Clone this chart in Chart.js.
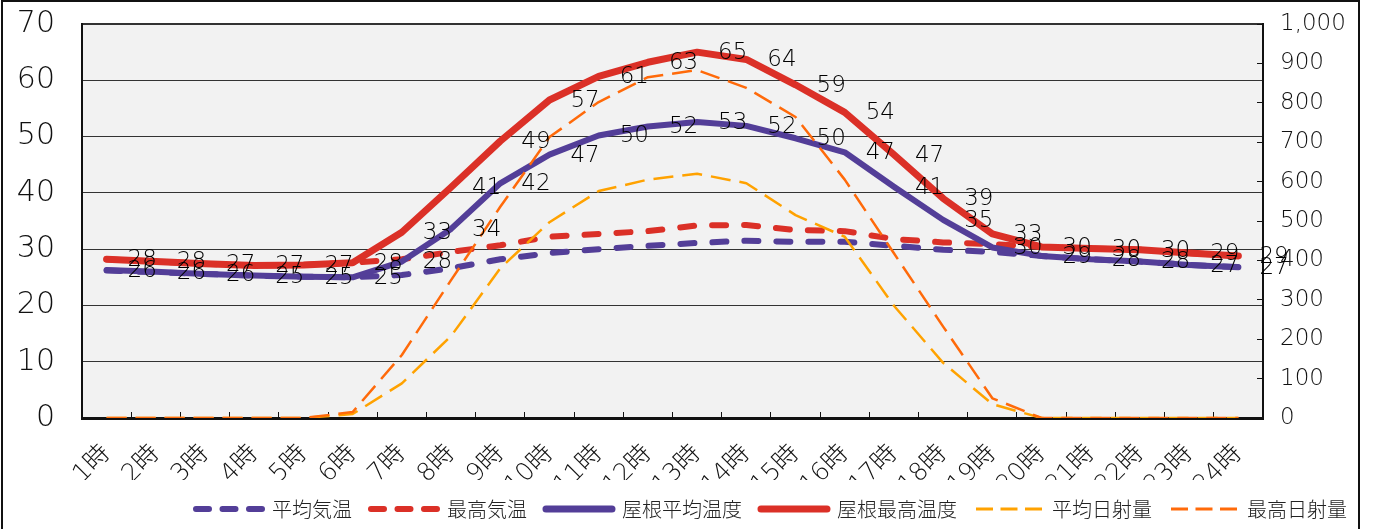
<!DOCTYPE html>
<html>
<head>
<meta charset="utf-8">
<script src="https://cdn.jsdelivr.net/npm/chart.js@4.4.1/dist/chart.umd.min.js"></script>
<style>
  html, body { margin: 0; padding: 0; background: #ffffff; }
  canvas { display: block; }
</style>
</head>
<body>
<canvas id="c" width="1376" height="529"></canvas>
<script>
// ---- data ----
const hours = ['1時','2時','3時','4時','5時','6時','7時','8時','9時','10時','11時','12時',
               '13時','14時','15時','16時','17時','18時','19時','20時','21時','22時','23時','24時'];

// 平均気温 (°C, left axis)
const avgAirTemp  = [26.2, 25.9, 25.6, 25.3, 25.1, 25.0, 25.4, 26.6, 28.2, 29.3, 30.0, 30.6,
                     31.1, 31.5, 31.3, 31.3, 30.6, 29.9, 29.5, 28.8, 28.2, 27.8, 27.2, 26.8];
// 最高気温 (°C, left axis)
const maxAirTemp  = [28.2, 27.8, 27.4, 27.1, 27.2, 27.6, 28.2, 29.5, 30.7, 32.2, 32.7, 33.2,
                     34.2, 34.3, 33.4, 33.2, 31.8, 31.2, 30.9, 30.4, 30.1, 29.9, 29.3, 28.8];
// 屋根平均温度 (°C, left axis)
const roofAvgTemp = [26.3, 26.0, 25.6, 25.3, 25.1, 25.0, 27.8, 33.6, 41.7, 46.8, 50.2, 51.8,
                     52.6, 51.9, 49.7, 47.2, 41.1, 35.2, 30.3, 28.8, 28.2, 27.8, 27.2, 26.8];
// 屋根最高温度 (°C, left axis)
const roofMaxTemp = [28.2, 27.8, 27.4, 27.1, 27.2, 27.6, 33.0, 41.0, 49.2, 56.5, 60.7, 63.2,
                     65.0, 63.7, 59.2, 54.3, 46.8, 39.0, 32.7, 30.4, 30.1, 29.9, 29.3, 28.8];
// 平均日射量 (right axis)
const avgSolar    = [0, 0, 0, 0, 0, 10, 88, 208, 380, 497, 576, 605,
                     620, 596, 515, 460, 285, 140, 35, 0, 0, 0, 0, 0];
// 最高日射量 (right axis)
const maxSolar    = [0, 0, 0, 0, 0, 15, 160, 350, 536, 713, 802, 865,
                     883, 838, 764, 605, 418, 232, 50, 0, 0, 0, 0, 0];

const tempAxisRange  = [0, 70];   // left axis min / max
const tempAxisStep   = 10;
const solarAxisRange = [0, 1000]; // right axis min / max
const solarAxisStep  = 100;

// ---- colours ----
const PURPLE = '#533E98';
const RED    = '#DB3027';
const LORANGE = '#FFA200';
const DORANGE = '#FF6A0A';

const NUM_FONT = "'DejaVu Sans', 'Noto Sans CJK JP', sans-serif";
const JP_FONT  = "'Noto Sans CJK JP', 'DejaVu Sans', sans-serif";

// plot background + outer border
const frame = {
  id: 'frame',
  beforeDraw(chart) {
    const {ctx, chartArea: a} = chart;
    ctx.save();
    ctx.fillStyle = '#ffffff';
    ctx.fillRect(0, 0, chart.width, chart.height);
    ctx.fillStyle = '#F2F2F2';
    ctx.fillRect(a.left, a.top, a.right - a.left, a.bottom - a.top);
    ctx.restore();
  },
  afterDraw(chart) {
    const ctx = chart.ctx;
    ctx.save();
    ctx.strokeStyle = '#111';
    ctx.lineWidth = 2;
    ctx.strokeRect(2, 1, 1357, 560);
    ctx.restore();
  }
};

// value labels placed to the right of each point
const valueLabels = {
  id: 'valueLabels',
  afterDatasetsDraw(chart) {
    const ctx = chart.ctx;
    ctx.save();
    ctx.font = '300 23px ' + NUM_FONT;
    ctx.fillStyle = '#000';
    ctx.textAlign = 'left';
    ctx.textBaseline = 'middle';
    chart.data.datasets.forEach((ds, i) => {
      if (!ds.showValues) return;
      const meta = chart.getDatasetMeta(i);
      meta.data.forEach((pt, j) => {
        ctx.fillText(String(Math.round(ds.data[j])), pt.x + 21, pt.y + 1);
      });
    });
    ctx.restore();
  }
};

// move the legend row to where the reference has it
const legendPlace = {
  id: 'legendPlace',
  afterLayout(chart) {
    if (chart.legend) {
      chart.legend.left = 177;
    }
  }
};

const ds = (label, data, color, width, dash, cap, axis, order, extra) => Object.assign({
  label, data,
  borderColor: color, backgroundColor: color,
  borderWidth: width, borderDash: dash, borderCapStyle: cap, borderJoinStyle: 'round',
  pointRadius: 0, pointHoverRadius: 0, tension: 0, fill: false,
  yAxisID: axis, order
}, extra || {});

new Chart(document.getElementById('c'), {
  type: 'line',
  data: {
    labels: hours,
    datasets: [
      ds('平均気温',     avgAirTemp,  PURPLE, 6, [14, 18], 'round', 'yT', 6, {legendDash: [13, 13.5], legendWidth: 6}),
      ds('最高気温',     maxAirTemp,  RED,    6, [14, 18], 'round', 'yT', 5, {legendDash: [13, 13.5], legendWidth: 6}),
      ds('屋根平均温度', roofAvgTemp, PURPLE, 6, [],       'round', 'yT', 4, {showValues: true, legendDash: [], legendWidth: 7}),
      ds('屋根最高温度', roofMaxTemp, RED,    7, [],       'round', 'yT', 3, {showValues: true, legendDash: [], legendWidth: 7}),
      ds('平均日射量',   avgSolar,    LORANGE, 2.5, [20, 9], 'butt', 'yS', 2, {legendDash: [17, 7.5], legendWidth: 3}),
      ds('最高日射量',   maxSolar,    DORANGE, 2.5, [20, 9], 'butt', 'yS', 1, {legendDash: [17, 7.5], legendWidth: 3})
    ]
  },
  options: {
    responsive: false,
    animation: false,
    devicePixelRatio: 1,
    layout: { padding: { top: 24, left: 0, right: 0, bottom: 0 } },
    plugins: {
      tooltip: { enabled: false },
      legend: {
        position: 'bottom',
        align: 'start',
        labels: {
          font: { family: JP_FONT, size: 20, weight: 300 },
          color: '#222',
          padding: 19,
          usePointStyle: true,
          pointStyle: 'line',
          pointStyleWidth: 66,
          sort: (a, b) => a.datasetIndex - b.datasetIndex,
          generateLabels(chart) {
            const items = Chart.defaults.plugins.legend.labels.generateLabels(chart);
            items.forEach(it => {
              const d = chart.data.datasets[it.datasetIndex];
              it.lineDash = d.legendDash;
              it.lineWidth = d.legendWidth;
              it.lineCap = d.borderCapStyle;
              it.pointStyle = 'line';
              it.strokeStyle = d.borderColor;
              it.fillStyle = d.borderColor;
            });
            return items;
          }
        }
      }
    },
    scales: {
      x: {
        type: 'category',
        offset: true,
        grid: { display: true, offset: true, drawOnChartArea: false, drawTicks: true,
                tickLength: -6, color: '#111', lineWidth: 1 },
        border: { display: true, color: '#111', width: 3 },
        ticks: { font: { family: NUM_FONT, size: 25, weight: 300 }, color: '#111',
                 minRotation: 45, maxRotation: 45, autoSkip: false, padding: 27 },
        afterFit(scale) { scale.height = 62; scale.paddingLeft = 0; scale.paddingRight = 0; }
      },
      yT: {
        type: 'linear', position: 'left',
        min: tempAxisRange[0], max: tempAxisRange[1],
        ticks: { stepSize: tempAxisStep, font: { family: NUM_FONT, size: 30, weight: 300 }, color: '#111', padding: 27 },
        grid: { drawTicks: false, color: '#333',
                lineWidth: c => (c.tick && c.tick.value === tempAxisRange[1]) ? 2 : (c.tick && c.tick.value === 0 ? 0 : 1) },
        border: { display: true, color: '#111', width: 2 },
        afterFit(scale) { scale.width = 82; scale.paddingTop = 0; scale.paddingBottom = 0; }
      },
      yS: {
        type: 'linear', position: 'right',
        min: solarAxisRange[0], max: solarAxisRange[1],
        ticks: { stepSize: solarAxisStep, font: { family: NUM_FONT, size: 23, weight: 300 }, color: '#111', padding: 23,
                 callback: v => Number(v).toLocaleString('en-US') },
        grid: { drawOnChartArea: false, drawTicks: true, tickLength: -6, color: '#111', lineWidth: 1 },
        border: { display: true, color: '#111', width: 2 },
        afterFit(scale) { scale.width = 113; scale.paddingTop = 0; scale.paddingBottom = 0; }
      }
    }
  },
  plugins: [frame, valueLabels, legendPlace]
});
</script>
</body>
</html>
